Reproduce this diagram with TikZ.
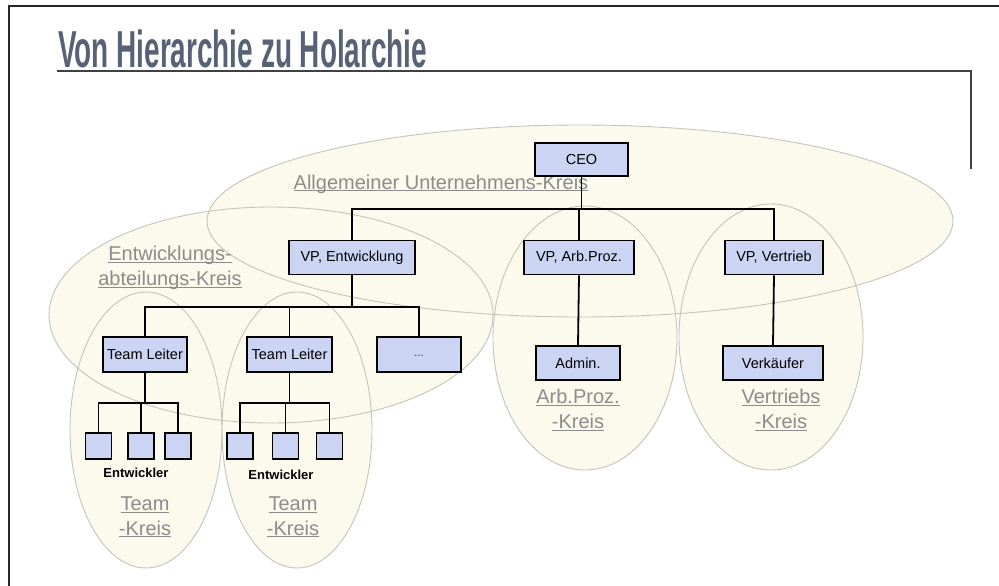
\documentclass[tikz,border=0pt]{standalone}
\usepackage{fontspec}
\setmainfont{Liberation Sans}
\usepackage{graphicx}
\definecolor{titlecol}{RGB}{88,98,118}
\definecolor{boxblue}{RGB}{204,212,243}
\definecolor{ellfill}{RGB}{252,250,237}
\definecolor{elldraw}{RGB}{196,196,186}
\definecolor{lblgray}{RGB}{140,140,140}
\newcommand\ulbl[1]{\setbox0\hbox{#1}\rlap{\rule[-2.2pt]{\wd0}{0.9pt}}\box0}
\begin{document}
\begin{tikzpicture}[x=1pt,y=-1pt,
  orgbox/.style={draw=black, fill=boxblue, line width=1.8pt, inner sep=1pt,
     font=\fontsize{14.5}{16}\selectfont, minimum height=34pt},
  devbox/.style={draw=black, fill=boxblue, line width=1.8pt, inner sep=0pt,
     minimum width=26pt, minimum height=26pt},
  conn/.style={line width=1.8pt, black},
  circlbl/.style={text=lblgray, align=center, inner sep=0pt,
     font=\fontsize{20}{24.5}\selectfont},
  ellline/.style={draw=elldraw, line width=0.9pt},
  frameline/.style={line width=1.8pt, black!85}]
\useasboundingbox (0,0) rectangle (999,586);
\fill[white] (0,0) rectangle (999,586);
% frame and title rule
\draw[frameline] (9,586) -- (9,6) -- (999,6);
\draw[line width=1.8pt, black!75] (57,71) -- (971,71) -- (971,169);
% title
\node[anchor=base west, text=titlecol, inner sep=0pt] (title) at (58,67)
  {\resizebox{369pt}{\height}{\fontsize{52}{52}\selectfont\bfseries Von Hierarchie zu Holarchie}};
% circles (holons): fills
\fill[ellfill] (580,221) ellipse [x radius=373pt, y radius=96pt];
\fill[ellfill] (271,315) ellipse [x radius=222pt, y radius=108pt];
\fill[ellfill] (146,430) ellipse [x radius=76pt, y radius=138pt];
\fill[ellfill] (297,430) ellipse [x radius=75pt, y radius=138pt];
\fill[ellfill] (585,338) ellipse [x radius=92pt, y radius=132pt];
\fill[ellfill] (771,337) ellipse [x radius=92pt, y radius=133pt];
% outlines
\draw[ellline] (580,221) ellipse [x radius=373pt, y radius=96pt];
\draw[ellline] (271,315) ellipse [x radius=222pt, y radius=108pt];
\draw[ellline] (146,430) ellipse [x radius=76pt, y radius=138pt];
\draw[ellline] (297,430) ellipse [x radius=75pt, y radius=138pt];
\draw[ellline] (585,338) ellipse [x radius=92pt, y radius=132pt];
\draw[ellline] (771,337) ellipse [x radius=92pt, y radius=133pt];
% circle labels
\node[circlbl] (lblall) at (441,184) {\ulbl{Allgemeiner Unternehmens-Kreis}};
\node[circlbl] (lblent) at (170,268) {\ulbl{Entwicklungs-}\\\ulbl{abteilungs-Kreis}};
\node[circlbl] (lblt1) at (145,517) {\ulbl{Team}\\\ulbl{-Kreis}};
\node[circlbl] (lblt2) at (293,517) {\ulbl{Team}\\\ulbl{-Kreis}};
\node[circlbl] (lblarb) at (578,410) {\ulbl{Arb.Proz.}\\\ulbl{-Kreis}};
\node[circlbl] (lblver) at (781,410) {\ulbl{Vertriebs}\\\ulbl{-Kreis}};
% org boxes
\node[orgbox, minimum width=93pt, minimum height=33pt] (ceo) at (581.5,159.5) {CEO};
\node[orgbox, minimum width=126pt] (vpe) at (352,257.5) {VP, Entwicklung};
\node[orgbox, minimum width=110pt] (vpa) at (579,257.5) {VP, Arb.Proz.};
\node[orgbox, minimum width=98pt] (vpv) at (774,257.5) {VP, Vertrieb};
\node[orgbox, minimum width=84pt] (adm) at (578,363) {Admin.};
\node[orgbox, minimum width=100pt] (verk) at (773,363) {Verkäufer};
\node[orgbox, minimum width=84pt, minimum height=35pt] (tl1) at (145,354.5) {Team Leiter};
\node[orgbox, minimum width=85pt, minimum height=35pt] (tl2) at (289.5,354.5) {Team Leiter};
\node[orgbox, minimum width=84pt, minimum height=35pt, font=\fontsize{12}{14}\selectfont, text=black!70] (more) at (419,354.5) {\raisebox{-4pt}{...}};
% developers
\node[devbox] (d11) at (98.5,446) {};
\node[devbox] (d12) at (141,446) {};
\node[devbox] (d13) at (178,446) {};
\node[devbox] (d21) at (240,446) {};
\node[devbox] (d22) at (285.5,446) {};
\node[devbox] (d23) at (329.5,446) {};
\node[font=\fontsize{13}{15}\selectfont\bfseries, inner sep=0pt] (ent1) at (136,473) {Entwickler};
\node[font=\fontsize{13}{15}\selectfont\bfseries, inner sep=0pt] (ent2) at (281,475) {Entwickler};
% connectors
\coordinate (b0) at (581.5,209);
\coordinate (b1) at (352,307);
\coordinate (b2) at (145,403);
\coordinate (b3) at (289.5,403);
\draw[conn] (ceo.south) -- (b0);
\draw[conn] (b0) -| (vpe.north);
\draw[conn] (b0) -| (vpv.north);
\draw[conn] (b0) -| (vpa.north);
\draw[conn] (vpa.south) -- (adm.north);
\draw[conn] (vpv.south) -- (verk.north);
\draw[conn] (vpe.south) -- (b1);
\draw[conn] (b1) -| (tl1.north);
\draw[conn] (b1) -| (tl2.north);
\draw[conn] (b1) -| (more.north);
\draw[conn] (tl1.south) -- (b2);
\draw[conn] (b2) -| (d11.north);
\draw[conn] (b2) -| (d12.north);
\draw[conn] (b2) -| (d13.north);
\draw[conn] (tl2.south) -- (b3);
\draw[conn] (b3) -| (d21.north);
\draw[conn] (b3) -| (d22.north);
\draw[conn] (b3) -| (d23.north);
\end{tikzpicture}
\end{document}
